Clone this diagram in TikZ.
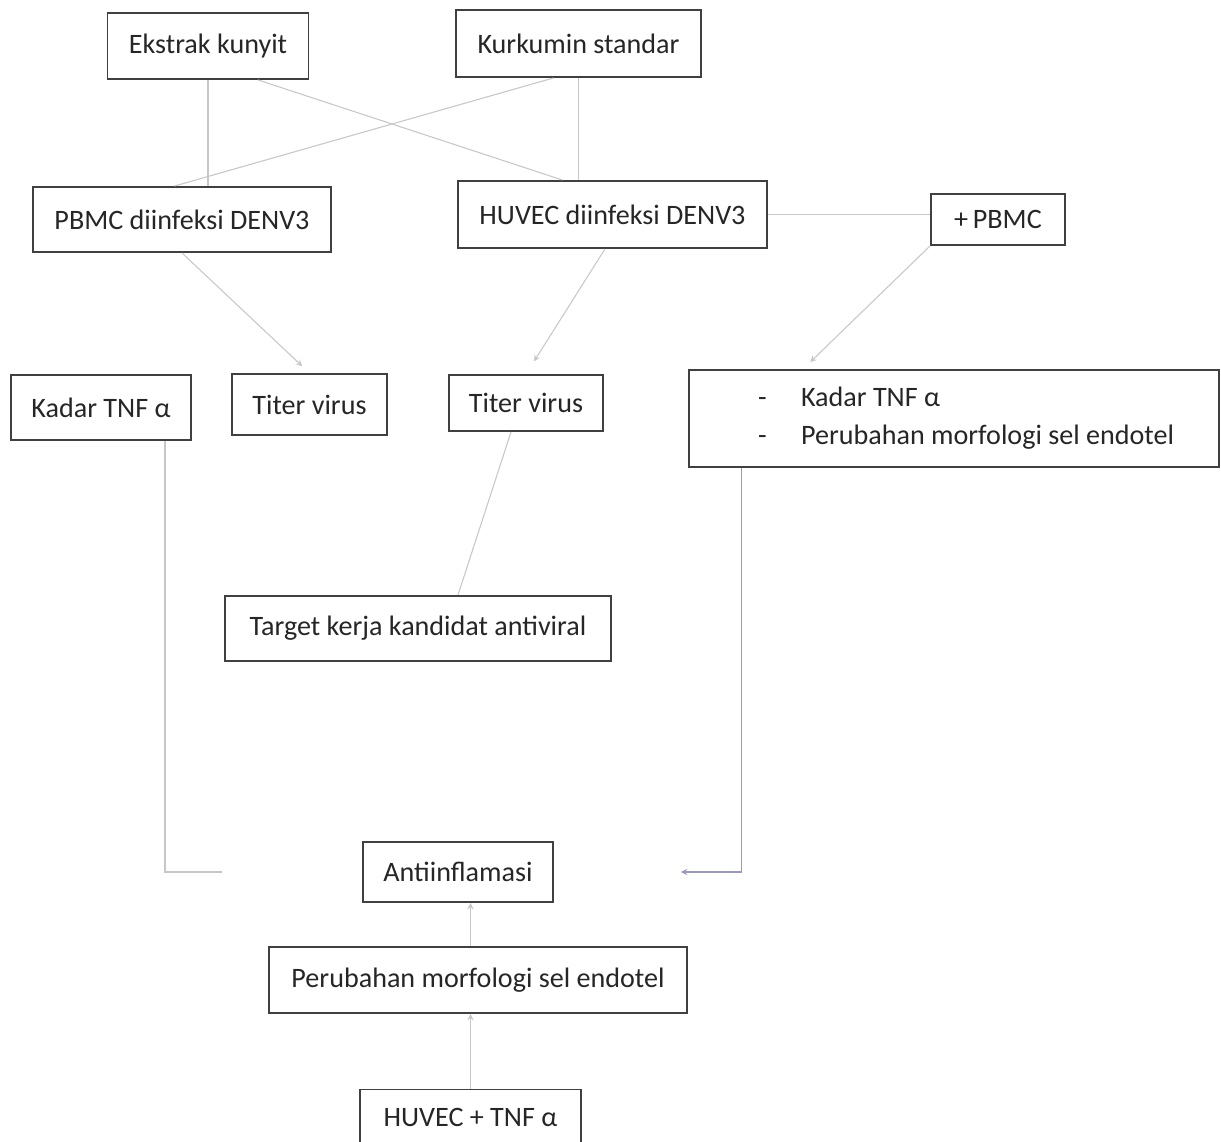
\documentclass[tikz,border=0pt]{standalone}
\usepackage{fontspec}
\setmainfont{Carlito}

\begin{document}
\begin{tikzpicture}[x=0.02cm,y=-0.02cm,>=stealth,
  box/.style={draw=black!75, line width=1.1pt, text=black!85, inner sep=0.15cm,
    font=\fontsize{16}{21.6}\selectfont},
  link/.style={draw=black!22, line width=0.6pt},
  flow/.style={link, ->}]
    \clip (0,0) rectangle (1221,1142);
    \fill[white] (0,0) rectangle (1221,1142);

        \node (ekstrak) [box, minimum width=4.02cm, minimum height=1.32cm] at (208,46) {Ekstrak kunyit};
        \node (kurkumin) [box, minimum width=4.90cm, minimum height=1.34cm] at (578.5,43.5) {Kurkumin standar};
        \node (pbmc) [box, minimum width=5.96cm, minimum height=1.30cm] at (182,219.5) {PBMC diinfeksi DENV3};
        \node (huvec) [box, minimum width=6.18cm, minimum height=1.34cm] at (612.5,214.5) {HUVEC diinfeksi DENV3};
        \node (pluspbmc) [box, minimum width=2.68cm, minimum height=1.02cm] at (998,219.5) {+\,PBMC};
        \node (kadar) [box, minimum width=3.60cm, minimum height=1.30cm] at (101,407.5) {Kadar TNF α};
        \node (titerA) [box, minimum width=3.10cm, minimum height=1.22cm] at (309.5,404.5) {Titer virus};
        \node (titerB) [box, minimum width=3.08cm, minimum height=1.12cm] at (526,403) {Titer virus};
        \node (effects) [box, minimum width=10.60cm, minimum height=1.94cm, align=left]
            at (954,418.5) {\makebox[10.3cm][l]{\hspace*{1.23cm}\makebox[0.86cm][l]{-}Kadar TNF α}\\
                            \makebox[10.3cm][l]{\hspace*{1.23cm}\makebox[0.86cm][l]{-}Perubahan morfologi sel endotel}};
        \node (target) [box, minimum width=7.72cm, minimum height=1.30cm] at (418,628.5) {Target kerja kandidat antiviral};
        \node (antiinfl) [box, minimum width=3.80cm, minimum height=1.20cm] at (458,872) {Antiinflamasi};
        \node (perubahan) [box, minimum width=8.36cm, minimum height=1.32cm] at (478,980) {Perubahan morfologi sel endotel};
        \node (huvectnf) [box, minimum width=4.42cm, minimum height=1.10cm] at (470.5,1117) {HUVEC + TNF α};

        % top inputs
        \draw[link] (ekstrak.south) -- (ekstrak.south |- pbmc.north);
        \draw[link] ([xshift=1cm]ekstrak.south) -- ([xshift=-1cm]huvec.north);
        \draw[link] ([xshift=-0.5cm]kurkumin.south) -- ([xshift=-0.15cm]pbmc.north);
        \draw[link] (kurkumin.south) -- (kurkumin.south |- huvec.north);

        % infected cells
        \draw[flow, shorten >=0.2cm] (pbmc.south) -- (titerA.north);
        \draw[flow, shorten >=0.3cm] ([xshift=-0.15cm]huvec.south) -- (titerB.north);
        \draw[link] (huvec.east) -- (huvec.east -| pluspbmc.west);
        \draw[flow, shorten >=0.2cm] (pluspbmc.south west) -- ([xshift=2.3cm]effects.north west);
        \draw[link] ([xshift=-0.3cm]titerB.south) -- ([xshift=0.8cm]target.north);

        % towards Antiinflamasi
        \draw[link, shorten >=2.8cm] ([xshift=1.28cm]kadar.south) |- (antiinfl.west);
        \draw[flow, draw=blue!30!black!40, shorten >=2.54cm] ([xshift=1.06cm]effects.south west) |- (antiinfl.east);
        \draw[flow] (perubahan.north -| huvectnf.north) -- (antiinfl.south -| huvectnf.north);
        \draw[flow] (huvectnf.north) -- (huvectnf.north |- perubahan.south);
\end{tikzpicture}
\end{document}
